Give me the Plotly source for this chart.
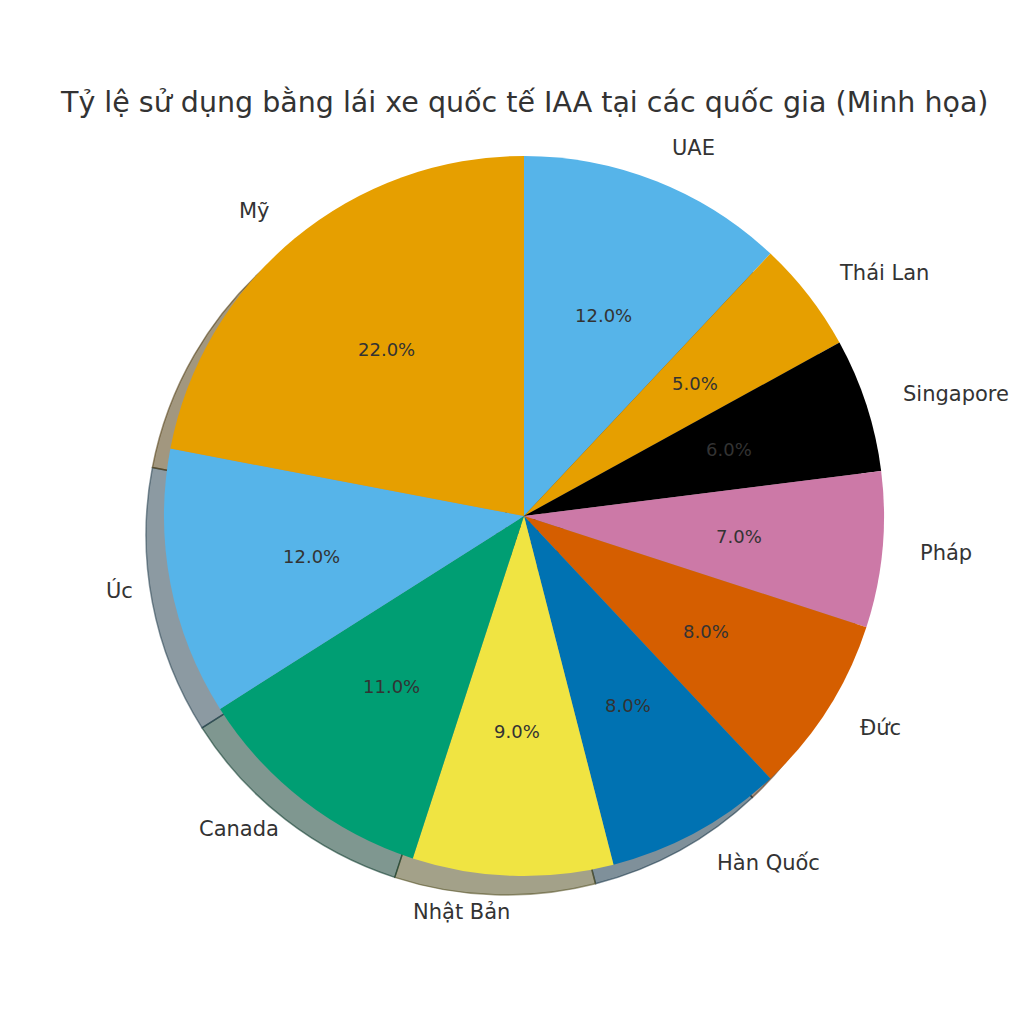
import math
import plotly.graph_objects as go

# ---- data ----
countries = ["Mỹ", "Úc", "Canada", "Nhật Bản", "Hàn Quốc", "Đức", "Pháp", "Singapore", "Thái Lan", "UAE"]
shares = [22, 12, 11, 9, 8, 8, 7, 6, 5, 12]
colors = ["#E69F00", "#56B4E9", "#009E73", "#F0E442", "#0072B2",
          "#D55E00", "#CC79A7", "#000000", "#E69F00", "#56B4E9"]
title_text = "Tỷ lệ sử dụng bằng lái xe quốc tế IAA tại các quốc gia (Minh họa)"

# ---- geometry (pixels) ----
W = H = 1024
CX, CY = 524, 516          # pie centre (from top)
R = 360                    # radius
SDX, SDY = -18, 19         # shadow offset

def dom(cx, cy):
    yup = H - cy
    return dict(x=[(cx - R) / W, (cx + R) / W], y=[(yup - R) / H, (yup + R) / H])

def shadow_col(hexc, a):
    r, g, b = int(hexc[1:3], 16), int(hexc[3:5], 16), int(hexc[5:7], 16)
    return f"rgba({int(0.3*r)},{int(0.3*g)},{int(0.3*b)},{a})"

# matplotlib order: counter-clockwise from 12 o'clock -> reverse + clockwise in plotly
rev_labels = countries[::-1]
rev_vals = shares[::-1]
rev_cols = colors[::-1]

fig = go.Figure()
fig.add_trace(go.Pie(
    labels=rev_labels, values=rev_vals, sort=False, direction="clockwise", rotation=0,
    marker=dict(colors=[shadow_col(c, 0.5) for c in rev_cols],
                line=dict(color=[shadow_col(c, 0.5) for c in rev_cols], width=1.5)),
    textinfo="none", hoverinfo="skip", showlegend=False, domain=dom(CX + SDX, CY + SDY)))
fig.add_trace(go.Pie(
    labels=rev_labels, values=rev_vals, sort=False, direction="clockwise", rotation=0,
    marker=dict(colors=rev_cols, line=dict(width=0)),
    textinfo="none", hoverinfo="skip", showlegend=False, domain=dom(CX, CY)))

total = sum(shares)
cum = 0
annotations = []
for name, v in zip(countries, shares):
    theta = math.radians(90 + 360 * (cum + v / 2) / total)
    cum += v
    c, s = math.cos(theta), math.sin(theta)
    lx = CX + 1.1 * R * c
    ly = CY - 1.1 * R * s
    annotations.append(dict(
        x=lx / W, y=1 - ly / H, xref="paper", yref="paper", text=name, showarrow=False,
        xanchor="left" if c > 0 else "right", yanchor="middle",
        font=dict(family="DejaVu Sans", size=21, color="#333333")))
    px = CX + 0.6 * R * c
    py = CY - 0.6 * R * s
    annotations.append(dict(
        x=px / W, y=1 - py / H, xref="paper", yref="paper", text=f"{v / total * 100:.1f}%",
        showarrow=False, xanchor="center", yanchor="middle",
        font=dict(family="DejaVu Sans", size=18, color="#333333")))

annotations.append(dict(
    x=524 / W, y=1 - 102 / H, xref="paper", yref="paper", text=title_text, showarrow=False,
    xanchor="center", yanchor="middle",
    font=dict(family="DejaVu Sans", size=28.5, color="#333333")))

fig.update_layout(
    width=W, height=H, margin=dict(l=0, r=0, t=0, b=0),
    paper_bgcolor="white", plot_bgcolor="white",
    annotations=annotations)

fig.write_html("out.html", config={"displayModeBar": False},
               post_script="document.body.style.margin='0px';")
